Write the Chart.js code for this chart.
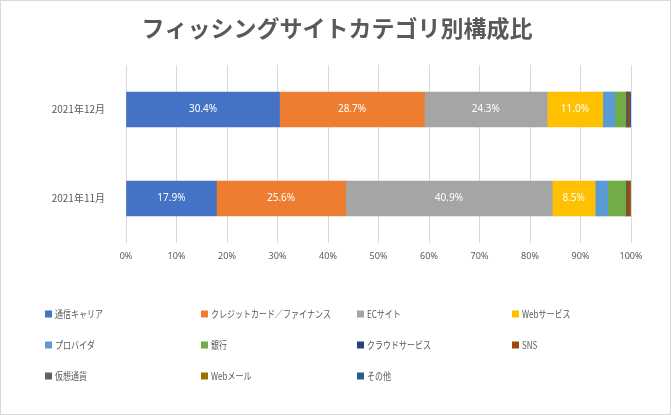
<!DOCTYPE html>
<html>
<head>
<meta charset="utf-8">
<script src="https://cdn.jsdelivr.net/npm/chart.js@4.4.0/dist/chart.umd.min.js"></script>
<style>
  html, body { margin: 0; padding: 0; background: #fff; }
  #chart { display: block; }
</style>
</head>
<body>
<canvas id="chart" width="671" height="415"></canvas>
<script>
// categories (top to bottom)
const months = ['2021年12月', '2021年11月'];

// series names, in stacking / legend order
const categories = [
    '通信キャリア', 'クレジットカード／ファイナンス', 'ECサイト', 'Webサービス',
    'プロバイダ', '銀行', 'クラウドサービス', 'SNS',
    '仮想通貨', 'Webメール', 'その他'
];

// share (%) per series: [2021年12月, 2021年11月]
const carrier   = [30.4, 17.9];
const credit    = [28.7, 25.6];
const ecSite    = [24.3, 40.9];
const webSvc    = [11.0, 8.5];
const provider  = [2.4, 2.5];
const bank      = [2.2, 3.6];
const cloud     = [0.2, 0.1];
const sns       = [0.4, 0.6];
const crypto    = [0.0, 0.1];
const webMail   = [0.0, 0.2];
const other     = [0.4, 0.0];

const xTicks = [0, 10, 20, 30, 40, 50, 60, 70, 80, 90, 100];

const colors = [
    '#4472C4', '#ED7D31', '#A5A5A5', '#FFC000',
    '#5B9BD5', '#70AD47', '#264478', '#9E480E',
    '#636363', '#997300', '#255E91'
];

const seriesValues = [carrier, credit, ecSite, webSvc, provider, bank, cloud, sns, crypto, webMail, other];
const labeledSeries = 4; // only the first four segments carry a value label

const TEXT = '#595959';
const JP_FONT = '"Noto Sans CJK JP", "Noto Sans", sans-serif';

// background + outer frame + title
const framePlugin = {
    id: 'frame',
    beforeDraw(chart) {
        const ctx = chart.ctx;
        ctx.save();
        ctx.fillStyle = '#ffffff';
        ctx.fillRect(0, 0, chart.width, chart.height);
        ctx.strokeStyle = '#d9d9d9';
        ctx.lineWidth = 1;
        ctx.strokeRect(0.5, 0.5, chart.width - 1, chart.height - 1);
        ctx.fillStyle = TEXT;
        ctx.font = 'bold 23px ' + JP_FONT;
        ctx.textAlign = 'center';
        ctx.textBaseline = 'middle';
        ctx.fillText('フィッシングサイトカテゴリ別構成比', 337, 28);
        ctx.restore();
    }
};

// value labels inside the big segments
const valueLabels = {
    id: 'valueLabels',
    afterDatasetsDraw(chart) {
        const ctx = chart.ctx;
        ctx.save();
        ctx.font = '10px "Noto Sans", sans-serif';
        ctx.fillStyle = '#ffffff';
        ctx.textAlign = 'center';
        ctx.textBaseline = 'middle';
        for (let d = 0; d < labeledSeries; d++) {
            const meta = chart.getDatasetMeta(d);
            meta.data.forEach((bar, i) => {
                const v = chart.data.datasets[d].data[i];
                const cx = (bar.x + bar.base) / 2;
                ctx.fillText(v.toFixed(1) + '%', cx, bar.y);
            });
        }
        ctx.restore();
    }
};

// 4-column legend grid, like the original (narrow text, as in the Excel export)
const gridLegend = {
    id: 'gridLegend',
    afterDraw(chart) {
        const ctx = chart.ctx;
        const cols = [45, 201, 357, 512];
        const rows = [314, 345, 376];
        const squeeze = 0.8;
        ctx.save();
        ctx.font = '10px ' + JP_FONT;
        ctx.textBaseline = 'middle';
        ctx.textAlign = 'left';
        chart.data.datasets.forEach((ds, i) => {
            const x = cols[i % 4];
            const y = rows[Math.floor(i / 4)];
            ctx.fillStyle = ds.backgroundColor;
            ctx.fillRect(x, y - 3.5, 7, 7);
            ctx.fillStyle = TEXT;
            ctx.save();
            ctx.translate(x + 10, y);
            ctx.scale(squeeze, 1);
            ctx.fillText(ds.label, 0, 0);
            ctx.restore();
        });
        ctx.restore();
    }
};

new Chart(document.getElementById('chart'), {
    type: 'bar',
    data: {
        labels: months,
        datasets: categories.map((name, i) => ({
            label: name,
            data: seriesValues[i],
            backgroundColor: colors[i],
            borderWidth: 0,
            barThickness: 35
        }))
    },
    options: {
        indexAxis: 'y',
        responsive: false,
        animation: false,
        layout: { padding: { top: 65, right: 40, bottom: 147, left: 0 } },
        plugins: {
            legend: { display: false },
            title: { display: false },
            tooltip: { enabled: false }
        },
        scales: {
            x: {
                stacked: true,
                min: 0,
                max: 100,
                afterBuildTicks: scale => { scale.ticks = xTicks.map(v => ({ value: v })); },
                afterFit: scale => { scale.height = 25; },
                ticks: {
                    color: TEXT,
                    font: { size: 9, family: '"Noto Sans", sans-serif' },
                    padding: 8,
                    callback: v => v + '%'
                },
                grid: { color: '#d9d9d9', drawTicks: false },
                border: { display: false }
            },
            y: {
                stacked: true,
                afterFit: scale => { scale.width = 126; },
                ticks: {
                    color: TEXT,
                    font: { size: 10, family: JP_FONT },
                    padding: 13
                },
                grid: { display: false },
                border: { display: false }
            }
        }
    },
    plugins: [framePlugin, valueLabels, gridLegend]
});
</script>
</body>
</html>
